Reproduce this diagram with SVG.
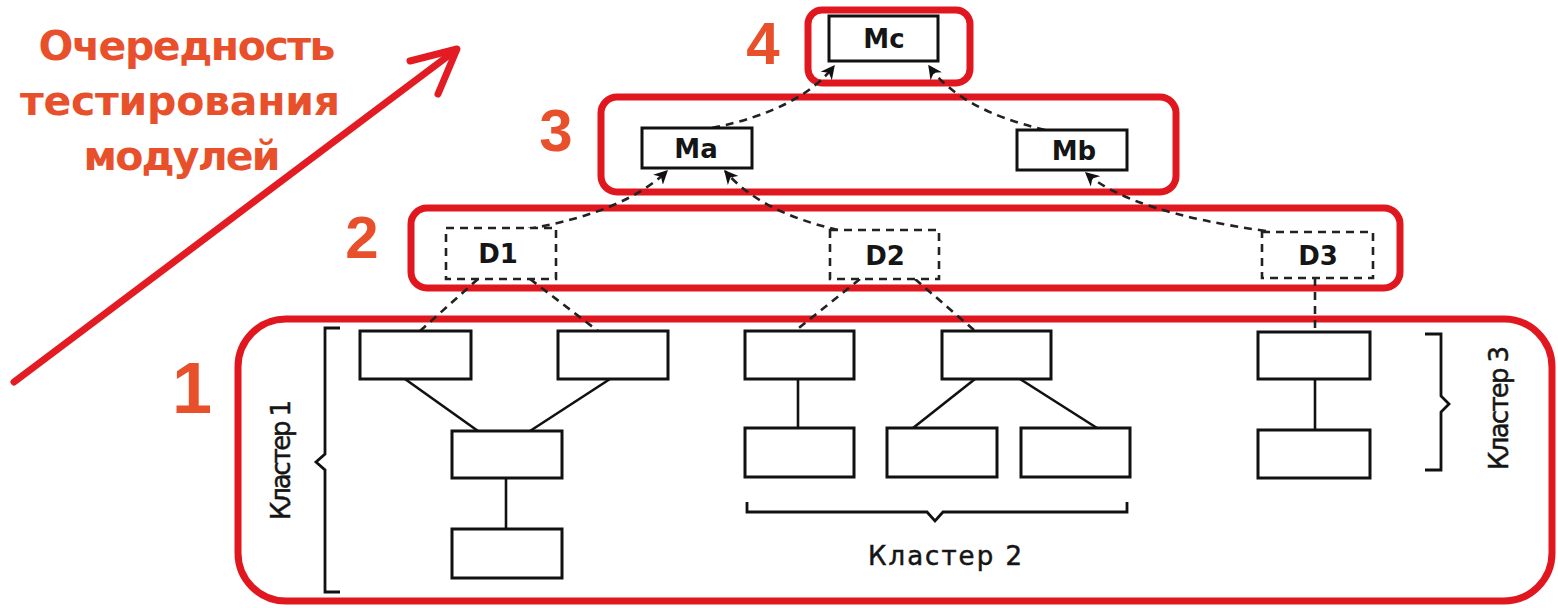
<svg xmlns="http://www.w3.org/2000/svg" width="1558" height="608" viewBox="0 0 1558 608">
<defs>
<style>
.lvl{fill:none;stroke:#e0171e;stroke-width:7}
.num{font-family:"Liberation Sans",Arial,sans-serif;font-weight:bold;fill:#e8502b;text-anchor:middle}
.title{font-family:"DejaVu Sans","Liberation Sans",sans-serif;font-weight:bold;font-size:41px;fill:#e8502b;text-anchor:middle}
.box{fill:#fff;stroke:#111;stroke-width:3}
.dbox{fill:#fff;stroke:#222;stroke-width:2.6;stroke-dasharray:8 6}
.lbl{font-family:"DejaVu Sans","Liberation Sans",sans-serif;font-weight:bold;font-size:26px;fill:#151515;text-anchor:middle}
.cl{font-family:"DejaVu Sans","Liberation Sans",sans-serif;font-size:26px;fill:#151515;stroke:#151515;stroke-width:0.5;text-anchor:middle}
.solid{fill:none;stroke:#111;stroke-width:2.6}
.dash{fill:none;stroke:#222;stroke-width:2.6;stroke-dasharray:8 6}
.brace{fill:none;stroke:#111;stroke-width:2.8}
</style>
<marker id="ah" viewBox="0 0 10 10" refX="9" refY="5" markerWidth="14" markerHeight="14" markerUnits="userSpaceOnUse" orient="auto">
<path d="M0,0 L10,5 L0,10 L3,5 z" fill="#111"/>
</marker>
</defs>
<rect width="1558" height="608" fill="#fff"/>

<g id="title">
<text class="title" x="187" y="60" textLength="297">Очередность</text>
<text class="title" x="180" y="115" textLength="320">тестирования</text>
<text class="title" x="182" y="170" textLength="197">модулей</text>
<g fill="none" stroke="#e31b23" stroke-width="7" stroke-linecap="round" stroke-linejoin="round">
<line x1="14" y1="382" x2="456" y2="50"/>
<polyline points="410,61 457,49 438,94"/>
</g>
</g>

<g id="levels">
<rect class="lvl" x="808" y="10" width="162" height="73" rx="14"/>
<rect class="lvl" x="601" y="97" width="575" height="95" rx="16"/>
<rect class="lvl" x="411" y="208" width="989" height="80" rx="16"/>
<rect class="lvl" x="238" y="319" width="1314" height="282" rx="48"/>
<text class="num" x="763" y="64" font-size="60">4</text>
<text class="num" x="556" y="151" font-size="60">3</text>
<text class="num" x="362" y="258" font-size="60">2</text>
<text class="num" x="192" y="413" font-size="72">1</text>
</g>

<g id="connectors">
<path class="dash" d="M712,128 Q800,110 834,66" marker-end="url(#ah)"/>
<path class="dash" d="M1045,130 Q960,110 929,66" marker-end="url(#ah)"/>
<path class="dash" d="M528,229 Q625,212 667,171" marker-end="url(#ah)"/>
<path class="dash" d="M838,230 Q760,212 725,171" marker-end="url(#ah)"/>
<path class="dash" d="M1266,231 Q1130,212 1086,173" marker-end="url(#ah)"/>
<line class="dash" x1="478" y1="279" x2="420" y2="331"/>
<line class="dash" x1="530" y1="279" x2="598" y2="331"/>
<line class="dash" x1="860" y1="279" x2="795" y2="331"/>
<line class="dash" x1="915" y1="279" x2="975" y2="331"/>
<line class="dash" x1="1315" y1="278" x2="1315" y2="332"/>
<line class="solid" x1="405" y1="379" x2="478" y2="431"/>
<line class="solid" x1="610" y1="379" x2="530" y2="431"/>
<line class="solid" x1="506" y1="478" x2="506" y2="529"/>
<line class="solid" x1="798" y1="379" x2="798" y2="428"/>
<line class="solid" x1="975" y1="379" x2="913" y2="428"/>
<line class="solid" x1="1020" y1="379" x2="1097" y2="428"/>
<line class="solid" x1="1315" y1="379" x2="1315" y2="430"/>
</g>

<g id="Mc"><rect class="box" x="829" y="16" width="109" height="45"/><text class="lbl" x="884" y="48">Mc</text></g>
<g id="Ma"><rect class="box" x="642" y="128" width="110" height="40"/><text class="lbl" x="696" y="158">Ma</text></g>
<g id="Mb"><rect class="box" x="1017" y="130" width="110" height="40"/><text class="lbl" x="1074" y="160">Mb</text></g>

<g id="D1"><rect class="dbox" x="446" y="228" width="110" height="51"/><text class="lbl" x="498" y="263">D1</text></g>
<g id="D2"><rect class="dbox" x="830" y="230" width="109" height="49"/><text class="lbl" x="885" y="265">D2</text></g>
<g id="D3"><rect class="dbox" x="1262" y="232" width="111" height="46"/><text class="lbl" x="1318" y="265">D3</text></g>

<g id="c1a"><rect class="box" x="360" y="331" width="111" height="48"/></g>
<g id="c1b"><rect class="box" x="558" y="331" width="110" height="48"/></g>
<g id="c1c"><rect class="box" x="452" y="431" width="110" height="47"/></g>
<g id="c1d"><rect class="box" x="452" y="529" width="110" height="49"/></g>

<g id="c2a"><rect class="box" x="745" y="331" width="109" height="48"/></g>
<g id="c2b"><rect class="box" x="942" y="331" width="109" height="48"/></g>
<g id="c2c"><rect class="box" x="745" y="428" width="109" height="49"/></g>
<g id="c2d"><rect class="box" x="887" y="428" width="110" height="49"/></g>
<g id="c2e"><rect class="box" x="1021" y="428" width="109" height="49"/></g>

<g id="c3a"><rect class="box" x="1258" y="332" width="112" height="47"/></g>
<g id="c3b"><rect class="box" x="1258" y="430" width="112" height="48"/></g>

<g id="cluster1">
<path class="brace" d="M340,328 L325,328 L325,454 L316,462 L325,470 L325,592 L340,592"/>
<text class="cl" transform="translate(290,460) rotate(-90)" textLength="120">Кластер 1</text>
</g>
<g id="cluster2">
<path class="brace" d="M747,502 L747,512 L927,512 L935,521 L943,512 L1127,512 L1127,502"/>
<text class="cl" x="945" y="565" textLength="154">Кластер 2</text>
</g>
<g id="cluster3">
<path class="brace" d="M1425,334 L1441,334 L1441,396 L1449,404 L1441,412 L1441,470 L1425,470"/>
<text class="cl" transform="translate(1508,408) rotate(-90)" textLength="124">Кластер 3</text>
</g>
</svg>
